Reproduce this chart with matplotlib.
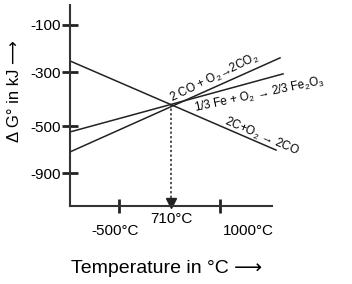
import matplotlib.pyplot as plt
import numpy as np

plt.rcParams['font.family'] = ['Liberation Sans', 'DejaVu Sans']
plt.rcParams['mathtext.fontset'] = 'custom'
plt.rcParams['mathtext.rm'] = 'Liberation Sans'

# schematic diagram units (x: arbitrary temperature axis, y: arbitrary dG axis)
line_x = [0, 206]
line_2c_co = [-253, -632]      # 2C + O2 -> 2CO
x_fe = [0, 213]
line_fe = [-555, -308]         # 1/3 Fe + O2 -> 2/3 Fe2O3
x_co = [0, 210]
line_co_co2 = [-640, -240]     # 2CO + O2 -> 2CO2

ytick_pos = [-100, -300, -530, -730]
ytick_lab = ['-100', '-300', '-500', '-900']
xtick_pos = [49, 150]
cross_x, cross_y = 101, -436

fig = plt.figure(figsize=(3.52, 2.84), dpi=100)
ax = fig.add_axes([70/352, 78/284, 215/352, 201/284])
ax.set_xlim(0, 215)
ax.set_ylim(-870, -15)

ax.plot(line_x, line_2c_co, color='#222222', lw=1.1)
ax.plot(x_fe, line_fe, color='#222222', lw=1.1)
ax.plot(x_co, line_co_co2, color='#222222', lw=1.1)

# dotted drop line to 710 C
ax.plot([cross_x, cross_x], [cross_y, -862], color='#222222', lw=1.1, ls=(0, (1.5, 1.5)))
ax.plot([cross_x], [-858], marker='v', color='#222222', ms=7, clip_on=False)

for s in ['top', 'right']:
    ax.spines[s].set_visible(False)
ax.spines['bottom'].set_bounds(0, 202)
ax.spines['left'].set_linewidth(1.5)
ax.spines['bottom'].set_linewidth(1.5)
ax.spines['left'].set_color('#333333')
ax.spines['bottom'].set_color('#333333')

ax.set_yticks(ytick_pos)
ax.set_yticklabels(ytick_lab, fontsize=11)
ax.tick_params(axis='y', direction='inout', length=11, width=2, pad=1, color='#222222')
ax.set_xticks(xtick_pos)
ax.set_xticklabels(['', ''])
ax.tick_params(axis='x', direction='inout', length=10, width=2, color='#222222')

ax.text(45, -976, '-500°C', fontsize=11, ha='center', va='center', clip_on=False)
ax.text(101, -925, '710°C', fontsize=11, ha='center', va='center', clip_on=False)
ax.text(178, -976, '1000°C', fontsize=11, ha='center', va='center', clip_on=False)

ax.set_xlabel('Temperature in °C ⟶', fontsize=14)
ax.xaxis.set_label_coords(0.45, -0.27)
ax.set_ylabel('Δ G° in kJ ⟶', fontsize=12)
ax.yaxis.set_label_coords(-0.225, 0.57)

ax.text(102, -428, '2 CO + O$_2$→2CO$_2$', fontsize=8.5, rotation=26,
        ha='left', va='baseline', rotation_mode='anchor')
ax.text(125, -470, '1/3 Fe + O$_2$ → 2/3 Fe$_2$O$_3$', fontsize=8.5, rotation=12,
        ha='left', va='baseline', rotation_mode='anchor')
ax.text(154, -521, '2C+O$_2$ → 2CO', fontsize=8.5, rotation=-23,
        ha='left', va='baseline', rotation_mode='anchor')

plt.savefig('out.png', dpi=100, facecolor='w')
